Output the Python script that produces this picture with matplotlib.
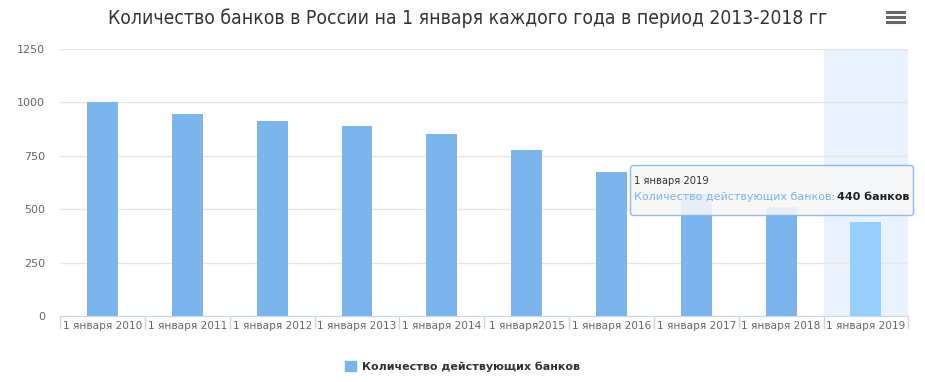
import matplotlib.pyplot as plt
from matplotlib.lines import Line2D
from matplotlib.offsetbox import AnnotationBbox, TextArea, HPacker, VPacker, DrawingArea

# data
categories = ["1 января 2010", "1 января 2011", "1 января 2012", "1 января 2013",
              "1 января 2014", "1 января2015", "1 января 2016", "1 января 2017",
              "1 января 2018", "1 января 2019"]
banks = [1000, 947, 914, 891, 853, 778, 675, 570, 512, 440]
y_ticks = [0, 250, 500, 750, 1000, 1250]

series_name = "Количество действующих банков"
title = "Количество банков в России на 1 января каждого года в период 2013-2018 гг"

bar_color = "#7cb5ec"
hover_color = "#95ceff"

plt.rcParams["font.family"] = ["DejaVu Sans"]

fig = plt.figure(figsize=(9.25, 3.82), dpi=100)
ax = fig.add_axes([0.065, 0.173, 0.917, 0.699])

x = list(range(len(categories)))
colors = [bar_color] * (len(banks) - 1) + [hover_color]

# hovered category band
ax.axvspan(x[-1] - 0.5, x[-1] + 0.5, color="#eaf2fd", zorder=0)

ax.bar(x, banks, width=0.365, color=colors, zorder=2)

ax.set_xlim(-0.5, len(categories) - 0.5)
ax.set_ylim(0, 1250)
ax.set_yticks(y_ticks)
ax.set_yticklabels([str(v) for v in y_ticks], color="#666666", fontsize=8)
ax.yaxis.grid(True, color="#e6e6e6", linewidth=1, zorder=1)
ax.tick_params(axis="y", length=0, pad=11)

ax.set_xticks(x)
ax.set_xticklabels(categories, fontsize=7.6, color="#666666")
ax.set_xticks([i - 0.5 for i in x] + [x[-1] + 0.5], minor=True)
ax.tick_params(axis="x", which="major", length=0, pad=4)
ax.tick_params(axis="x", which="minor", length=9, color="#ccd6eb", width=1)

for s in ["top", "right", "left"]:
    ax.spines[s].set_visible(False)
ax.spines["bottom"].set_color("#ccd6eb")
ax.set_axisbelow(True)

# title
fig.text(0.505, 0.953, title, ha="center", va="center", fontsize=13.9,
         color="#333333", family=["DejaVu Sans"], stretch="condensed")

# menu icon
for yy in [0.942, 0.955, 0.968]:
    fig.add_artist(Line2D([0.959, 0.977], [yy, yy], color="#666666", linewidth=2.2))

# legend
leg = ax.legend([plt.Rectangle((0, 0), 1, 1, color=bar_color)], [series_name],
                loc="center", bbox_to_anchor=(0.5, 0.04), bbox_transform=fig.transFigure,
                frameon=False, handlelength=1.0, handleheight=1.0, handletextpad=0.5,
                prop={"weight": "bold", "size": 8})
for t in leg.get_texts():
    t.set_color("#333333")

# tooltip
head = TextArea("1 января 2019", textprops=dict(fontsize=7.2, color="#333333"))
part1 = TextArea(series_name + ":", textprops=dict(fontsize=8, color=bar_color))
part2 = TextArea(f"{banks[-1]} банков", textprops=dict(fontsize=8, color="#222222",
                                                      weight="bold"))
line2 = HPacker(children=[part1, part2], align="baseline", pad=0, sep=1)
box = VPacker(children=[DrawingArea(1, 0.5), head, line2, DrawingArea(1, 1.5)],
              align="left", pad=0, sep=4.5)
ab = AnnotationBbox(box, (x[-1], banks[-1]), xybox=(-68, 23), xycoords="data",
                    boxcoords="offset points", box_alignment=(0.5, 0.5), pad=0.55,
                    bboxprops=dict(boxstyle="round,pad=0.3,rounding_size=0.2",
                                   facecolor="#f7f7f7", edgecolor=bar_color,
                                   linewidth=1, alpha=0.88),
                    zorder=5)
ax.add_artist(ab)

plt.savefig("out.png", dpi=100)
